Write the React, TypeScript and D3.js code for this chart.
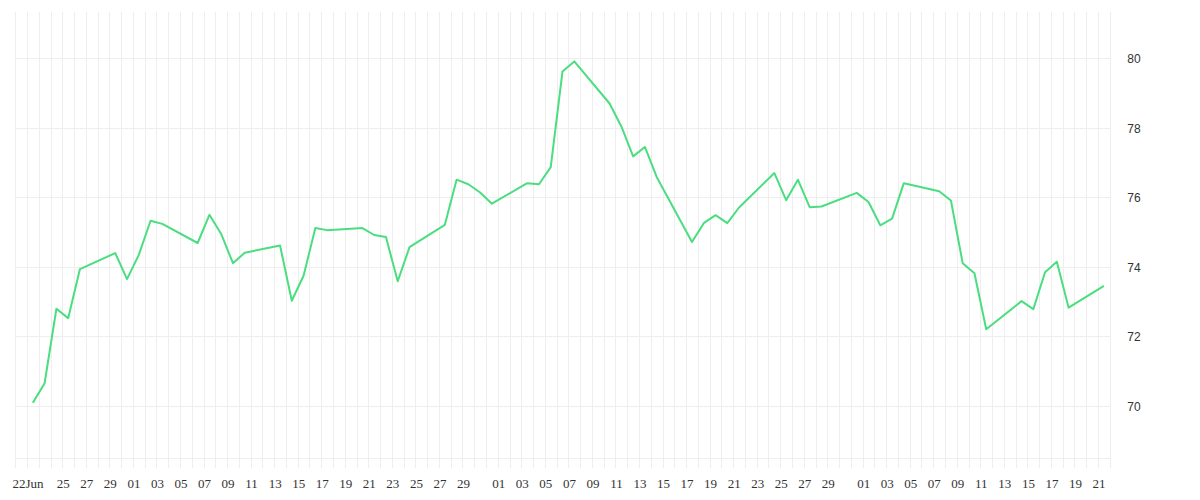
import { useEffect, useRef } from "react";
import * as d3 from "d3";

// trading days (2020) and closing values
const dates = [
  "2020-06-22", "2020-06-23", "2020-06-24", "2020-06-25", "2020-06-26",
  "2020-06-29", "2020-06-30", "2020-07-01", "2020-07-02", "2020-07-03",
  "2020-07-06", "2020-07-07", "2020-07-08", "2020-07-09", "2020-07-10",
  "2020-07-13", "2020-07-14", "2020-07-15", "2020-07-16", "2020-07-17",
  "2020-07-20", "2020-07-21", "2020-07-22", "2020-07-23", "2020-07-24",
  "2020-07-27", "2020-07-28", "2020-07-29", "2020-07-30", "2020-07-31",
  "2020-08-03", "2020-08-04", "2020-08-05", "2020-08-06", "2020-08-07",
  "2020-08-10", "2020-08-11", "2020-08-12", "2020-08-13", "2020-08-14",
  "2020-08-17", "2020-08-18", "2020-08-19", "2020-08-20", "2020-08-21",
  "2020-08-24", "2020-08-25", "2020-08-26", "2020-08-27", "2020-08-28",
  "2020-08-31", "2020-09-01", "2020-09-02", "2020-09-03", "2020-09-04",
  "2020-09-07", "2020-09-08", "2020-09-09", "2020-09-10", "2020-09-11",
  "2020-09-14", "2020-09-15", "2020-09-16", "2020-09-17", "2020-09-18",
  "2020-09-21",
];

const values = [
  70.11, 70.67, 72.81, 72.54, 73.95,
  74.41, 73.66, 74.36, 75.34, 75.25,
  74.7, 75.51, 74.96, 74.12, 74.42,
  74.63, 73.04, 73.76, 75.13, 75.07,
  75.13, 74.93, 74.87, 73.6, 74.58,
  75.22, 76.52, 76.39, 76.15, 75.83,
  76.42, 76.39, 76.88, 79.63, 79.92,
  78.71, 78.05, 77.19, 77.46, 76.6,
  74.73, 75.27, 75.5, 75.27, 75.72,
  76.71, 75.93, 76.52, 75.73, 75.75,
  76.14, 75.88, 75.21, 75.4, 76.42,
  76.19, 75.92, 74.12, 73.83, 72.22,
  73.03, 72.8, 73.86, 74.16, 72.84,
  73.47,
];

const yTicks = [70, 72, 74, 76, 78, 80];

const parse = (s: string) => {
  const [y, m, d] = s.split("-").map(Number);
  return new Date(y, m - 1, d, 11);
};

export default function App() {
  const svgRef = useRef<SVGSVGElement | null>(null);

  useEffect(() => {
    if (!svgRef.current) return;
    const svg = d3.select(svgRef.current);
    svg.selectAll("*").remove();

    const data = dates.map((d, i) => ({ date: parse(d), value: values[i] }));

    const left = 15.7;
    const right = 1110.3;
    const top = 12;
    const bottom = 458;

    const start = new Date(2020, 5, 21);
    const end = new Date(2020, 8, 22);

    const x = d3.scaleTime().domain([start, end]).range([left, right]);
    const y = d3.scaleLinear().domain([68.52, 81.34]).range([bottom, top]);

    const grid = svg.append("g").attr("shape-rendering", "crispEdges");

    // vertical day lines (extend below the plot as tick marks)
    grid
      .selectAll("line.v")
      .data(d3.timeDay.range(start, d3.timeDay.offset(end, 1)))
      .enter()
      .append("line")
      .attr("class", "v")
      .attr("x1", (d) => x(d))
      .attr("x2", (d) => x(d))
      .attr("y1", top)
      .attr("y2", bottom + 10)
      .attr("stroke", "#eeeeee")
      .attr("stroke-width", 1);

    // horizontal lines
    grid
      .selectAll("line.h")
      .data(yTicks)
      .enter()
      .append("line")
      .attr("class", "h")
      .attr("x1", left)
      .attr("x2", right)
      .attr("y1", (d) => y(d))
      .attr("y2", (d) => y(d))
      .attr("stroke", "#eeeeee");

    grid
      .append("line")
      .attr("x1", left)
      .attr("x2", right)
      .attr("y1", bottom)
      .attr("y2", bottom)
      .attr("stroke", "#eeeeee");

    // line
    const line = d3
      .line<(typeof data)[0]>()
      .x((d) => x(d.date))
      .y((d) => y(d.value));

    svg
      .append("path")
      .datum(data)
      .attr("fill", "none")
      .attr("stroke", "#4ade80")
      .attr("stroke-width", 2)
      .attr("stroke-linejoin", "round")
      .attr("d", line);

    // x axis labels: first day, then every odd day (31st skipped)
    const firstDay = new Date(2020, 5, 22);
    const tickDates = [
      firstDay,
      ...d3.timeDay
        .range(new Date(2020, 5, 25), end)
        .filter((d) => d.getDate() % 2 === 1 && d.getDate() !== 31),
    ];

    svg
      .append("g")
      .attr("transform", `translate(0,${bottom + 30})`)
      .call(
        d3
          .axisBottom(x)
          .tickValues(tickDates)
          .tickSize(0)
          .tickPadding(0)
          .tickFormat((d) =>
            +d === +firstDay ? "22Jun" : d3.timeFormat("%d")(d as Date)
          )
      )
      .call((g) => g.select(".domain").remove())
      .call((g) =>
        g
          .selectAll("text")
          .attr("dy", 0)
          .attr("fill", "#333")
          .attr("font-family", "serif")
          .attr("font-size", 13)
      );

    // y axis labels on the right
    svg
      .append("g")
      .attr("transform", `translate(${right + 17},0)`)
      .call(d3.axisRight(y).tickValues(yTicks).tickSize(0).tickPadding(0))
      .call((g) => g.select(".domain").remove())
      .call((g) =>
        g
          .selectAll("text")
          .attr("fill", "#333")
          .attr("font-family", "'Liberation Sans', Arial, sans-serif")
          .attr("font-size", 12)
      );
  }, []);

  return (
    <div style={{ position: "absolute", left: 0, top: 0, width: 1200, height: 500, background: "#fff" }}>
      <svg ref={svgRef} width={1200} height={500} style={{ display: "block" }} />
    </div>
  );
}
